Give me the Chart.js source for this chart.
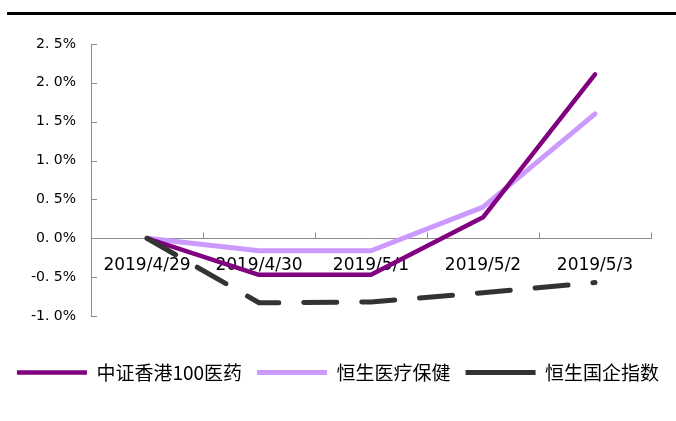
<!DOCTYPE html>
<html>
<head>
<meta charset="utf-8">
<script src="https://cdn.jsdelivr.net/npm/chart.js@4/dist/chart.umd.min.js"></script>
<style>
    body { margin: 0; background: #fff; }
    #wrap { position: relative; width: 676px; height: 421px; }
    #topRule { position: absolute; left: 7px; right: 0; top: 12px; height: 3px; background: #000; }
    canvas { position: absolute; left: 0; top: 0; }
</style>
</head>
<body>
<div id="wrap">
    <canvas id="chart" width="676" height="421"></canvas>
    <div id="topRule"></div>
</div>
<script>
// 日期
const dates = ['2019/4/29', '2019/4/30', '2019/5/1', '2019/5/2', '2019/5/3'];

// 累计涨跌幅 (%)
const hkPharma100 = [0, -0.47, -0.47, 0.27, 2.11];
const hsHealthcare = [0, -0.16, -0.16, 0.40, 1.60];
const hsChinaEnt = [0, -0.83, -0.82, -0.70, -0.57];

const seriesNames = ['中证香港100医药', '恒生医疗保健', '恒生国企指数'];

const yMin = -1.0;
const yMax = 2.5;
const yStep = 0.5;

const axisGray = '#8c8c8c';

// 坐标轴内侧的小刻度线
const innerTicks = {
    id: 'innerTicks',
    afterDraw(chart) {
        const ctx = chart.ctx;
        const x = chart.scales.x, y = chart.scales.y;
        ctx.save();
        ctx.strokeStyle = axisGray;
        ctx.lineWidth = 1;
        ctx.beginPath();
        y.ticks.forEach((t, i) => {
            const py = Math.round(y.getPixelForTick(i)) + 0.5;
            ctx.moveTo(y.right, py);
            ctx.lineTo(y.right + 6, py);
        });
        const zeroY = Math.round(y.getPixelForValue(0)) + 0.5;
        const n = dates.length;
        for (let i = 0; i <= n; i++) {
            const px = Math.round(x.left + i * (x.right - x.left) / n) + 0.5;
            ctx.moveTo(px, zeroY);
            ctx.lineTo(px, zeroY - 6);
        }
        ctx.stroke();
        ctx.restore();
    }
};

new Chart(document.getElementById('chart'), {
    type: 'line',
    data: {
        labels: dates,
        datasets: [
            {
                label: seriesNames[0],
                data: hkPharma100,
                borderColor: '#800080',
                backgroundColor: '#800080',
                borderWidth: 4.5,
                order: 1
            },
            {
                label: seriesNames[1],
                data: hsHealthcare,
                borderColor: '#cc99ff',
                backgroundColor: '#cc99ff',
                borderWidth: 5,
                order: 2
            },
            {
                label: seriesNames[2],
                data: hsChinaEnt,
                borderColor: '#333333',
                backgroundColor: '#333333',
                borderWidth: 5,
                borderDash: [33, 25],
                order: 0
            }
        ]
    },
    options: {
        responsive: false,
        animation: false,
        layout: { padding: { top: 44, right: 0, bottom: 29, left: 0 } },
        elements: {
            point: { radius: 0 },
            line: { tension: 0, borderCapStyle: 'round', borderJoinStyle: 'round' }
        },
        scales: {
            x: {
                type: 'category',
                offset: true,
                position: { y: 0 },
                grid: { display: false, drawTicks: false },
                border: { display: true, color: axisGray, width: 1 },
                ticks: {
                    color: '#000',
                    font: { family: 'DejaVu Sans', size: 17 },
                    padding: 17,
                    maxRotation: 0,
                    autoSkip: false
                }
            },
            y: {
                min: yMin,
                max: yMax,
                grid: { display: false, drawTicks: false },
                border: { display: true, color: axisGray, width: 1 },
                afterFit(scale) { scale.width = 91; },
                ticks: {
                    stepSize: yStep,
                    color: '#000',
                    font: { family: 'DejaVu Sans', size: 14 },
                    padding: 15,
                    callback: v => v.toFixed(1).replace('.', '. ') + '%'
                }
            },
            // 右侧留白，只占位不画
            yGap: {
                position: 'right',
                grid: { display: false, drawTicks: false },
                border: { display: false },
                ticks: { display: false },
                afterFit(scale) { scale.width = 25; }
            }
        },
        plugins: {
            tooltip: { enabled: false },
            legend: {
                position: 'bottom',
                // 空白标题用来把图例往下推
                title: { display: true, text: ' ', font: { size: 1, lineHeight: '32px' }, padding: 0 },
                labels: {
                    usePointStyle: true,
                    pointStyle: 'line',
                    pointStyleWidth: 70,
                    padding: 15,
                    color: '#000',
                    font: { family: 'Noto Sans CJK SC', size: 19 },
                    sort: (a, b) => a.datasetIndex - b.datasetIndex
                }
            }
        }
    },
    plugins: [innerTicks]
});
</script>
</body>
</html>
